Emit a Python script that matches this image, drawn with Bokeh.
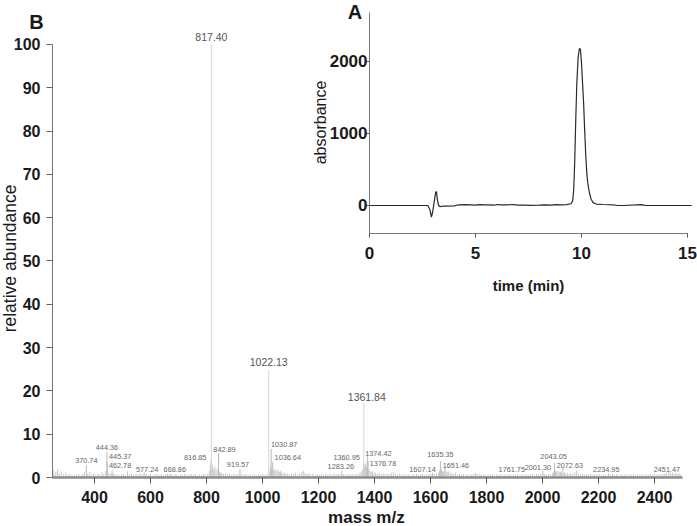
import math
from bokeh.plotting import figure
from bokeh.models import Range1d, LinearAxis, FixedTicker, Label
from bokeh.embed import file_html
from bokeh.resources import INLINE
from bokeh.core.properties import value

# ---------------- data: mass spectrum (panel B) ----------------
major_mz = [817.40, 1022.13, 1361.84]
major_h = [100.0, 24.7, 17.2]
major_label_y = [101.7, 26.6, 18.7]
major_dx = [0, 0, 3]

lab_mz = [370.74, 444.36, 445.37, 462.78, 577.24, 668.86, 816.85, 842.89, 919.57,
          1030.87, 1036.64, 1283.26, 1360.95, 1374.42, 1376.78, 1607.14, 1635.35,
          1651.46, 1761.75, 2001.30, 2043.05, 2072.63, 2234.95, 2451.47]
lab_h = [2.8, 5.9, 3.6, 1.6, 1.2, 0.9, 4.2, 5.6, 1.9,
         6.6, 3.6, 1.5, 3.3, 5.0, 3.8, 1.1, 3.8,
         2.4, 1.0, 1.6, 3.4, 2.2, 1.0, 1.3]
lab_y = [3.9, 6.9, 4.85, 2.8, 1.85, 1.85, 4.6, 6.5, 3.0,
         7.6, 4.6, 2.5, 4.6, 5.5, 3.3, 1.85, 5.3,
         2.8, 1.85, 2.4, 4.85, 2.8, 1.85, 1.85]
lab_dx = [0, 0, 13, 8, 3, 5, -16, 6, -2,
          13, 15, -1, -17, 11, 15, -10, 0,
          11, 36, -5, -1, 7, -2, -2]

noise_mz = [255, 262, 268, 274, 281, 289, 297, 305, 312, 320, 328, 336, 344, 352, 358, 364,
            376, 383, 391, 398, 405, 412, 419, 427, 433, 440, 451, 457, 468, 474, 481, 489,
            496, 503, 510, 518, 525, 532, 540, 548, 556, 563, 570, 585, 592, 600, 608, 616,
            623, 631, 639, 646, 654, 661, 676, 684, 691, 699, 707, 714, 722, 730, 737, 745,
            752, 760, 768, 775, 783, 790, 798, 805, 811, 814, 820, 823, 826, 830, 834, 838,
            846, 850, 855, 861, 868, 875, 882, 890, 897, 905, 912, 926, 934, 941, 949, 956,
            964, 971, 979, 986, 994, 1001, 1008, 1015, 1026, 1029, 1033, 1040, 1044, 1048,
            1052, 1056, 1060, 1064, 1068, 1073, 1078, 1084, 1090, 1097, 1104, 1111, 1118,
            1126, 1133, 1140, 1146, 1152, 1158, 1165, 1172, 1180, 1188, 1195, 1203, 1211,
            1218, 1226, 1233, 1241, 1248, 1256, 1263, 1270, 1277, 1290, 1297, 1305, 1312,
            1320, 1327, 1334, 1341, 1348, 1354, 1358, 1365, 1368, 1371, 1380, 1384, 1388,
            1393, 1398, 1404, 1410, 1417, 1424, 1431, 1438, 1445, 1452, 1460, 1467, 1474,
            1482, 1490, 1497, 1505, 1512, 1520, 1527, 1535, 1542, 1550, 1557, 1565, 1572,
            1580, 1587, 1595, 1601, 1614, 1621, 1628, 1632, 1639, 1643, 1647, 1655, 1660,
            1665, 1671, 1677, 1684, 1690, 1697, 1704, 1711, 1718, 1726, 1733, 1741, 1748,
            1755, 1768, 1776, 1783, 1791, 1798, 1806, 1814, 1821, 1829, 1836, 1844, 1851,
            1859, 1866, 1874, 1881, 1889, 1896, 1904, 1911, 1919, 1926, 1934, 1941, 1949,
            1956, 1964, 1971, 1979, 1986, 1994, 2008, 2015, 2022, 2029, 2036, 2040, 2047,
            2051, 2055, 2060, 2064, 2068, 2078, 2083, 2089, 2095, 2101, 2108, 2115, 2122,
            2129, 2136, 2143, 2150, 2158, 2165, 2172, 2180, 2187, 2195, 2202, 2210, 2217,
            2225, 2242, 2250, 2257, 2265, 2272, 2280, 2287, 2295, 2302, 2310, 2317, 2325,
            2332, 2340, 2347, 2355, 2362, 2370, 2378, 2385, 2393, 2400, 2408, 2415, 2423,
            2430, 2437, 2443, 2458, 2464, 2470, 2476, 2482, 2488, 2494]
noise_h = [1.6, 1.2, 1.9, 1.0, 1.4, 0.8, 1.1, 0.6, 0.9, 0.5, 0.7, 0.6, 0.9, 0.5, 0.8, 1.1,
           0.9, 1.3, 0.7, 1.0, 0.6, 0.9, 0.7, 1.2, 0.8, 1.5, 1.1, 0.9, 1.0, 0.6, 0.8, 0.5,
           0.7, 0.9, 0.6, 1.4, 0.8, 1.0, 0.6, 0.9, 0.7, 1.0, 0.8, 0.9, 0.6, 0.8, 0.5, 0.7,
           0.9, 0.6, 0.8, 0.5, 0.7, 0.9, 0.8, 0.6, 0.9, 0.5, 0.7, 0.6, 0.8, 0.5, 0.7, 0.9,
           0.6, 0.8, 0.5, 0.7, 0.6, 0.9, 0.7, 1.0, 1.6, 2.8, 3.0, 2.2, 1.8, 2.4, 1.5, 1.9,
           1.4, 1.0, 1.2, 0.8, 1.0, 0.7, 0.9, 0.6, 0.8, 0.7, 0.9, 0.8, 0.6, 0.8, 0.5, 0.7,
           0.6, 0.8, 0.5, 0.7, 0.6, 0.8, 0.5, 0.9, 1.5, 2.5, 2.0, 1.8, 1.6, 1.9,
           1.4, 1.7, 1.3, 1.5, 1.1, 1.0, 1.2, 0.8, 1.0, 0.7, 0.9, 0.8, 1.1,
           0.7, 0.9, 1.2, 1.6, 1.1, 0.8, 1.0, 0.7, 0.9, 0.6, 0.8, 0.6, 0.9,
           0.5, 0.8, 0.6, 0.8, 0.6, 0.9, 0.7, 0.9, 0.7, 0.8, 0.6, 0.8, 0.7,
           0.9, 0.6, 0.8, 0.9, 1.1, 1.4, 1.8, 2.6, 3.2, 2.4, 2.0, 1.6, 1.3,
           1.5, 1.1, 1.2, 0.9, 1.1, 0.8, 1.0, 0.7, 0.9, 0.8, 1.1, 1.4, 0.9,
           0.7, 0.9, 0.6, 0.8, 0.6, 0.8, 0.5, 0.7, 0.6, 0.8, 0.6, 0.7, 0.9,
           0.6, 0.8, 0.7, 0.9, 0.8, 0.9, 1.2, 1.6, 2.0, 1.5, 1.3, 1.6, 1.2,
           1.4, 1.0, 1.1, 0.8, 1.2, 0.7, 0.9, 0.7, 0.8, 0.6, 0.8, 0.6, 0.7,
           0.9, 0.7, 0.8, 0.6, 0.7, 0.5, 0.7, 0.6, 0.8, 0.5, 0.7, 0.6, 0.8,
           0.5, 0.7, 0.6, 0.8, 0.5, 0.7, 0.6, 0.8, 0.5, 0.7, 0.6, 0.8, 0.6,
           0.7, 0.9, 0.6, 0.8, 0.7, 0.9, 0.8, 0.6, 0.9, 0.7, 1.0, 1.4, 1.6,
           1.3, 1.5, 1.2, 1.4, 1.1, 1.2, 1.0, 1.1, 0.8, 1.0, 0.8, 1.2, 1.6,
           0.9, 0.7, 0.9, 0.6, 0.8, 0.7, 0.9, 0.6, 0.8, 0.6, 0.8, 0.5, 0.7,
           0.6, 0.7, 0.8, 0.6, 0.8, 0.5, 0.7, 0.6, 0.8, 0.5, 0.7, 0.6, 0.8,
           0.5, 0.7, 0.6, 0.8, 0.5, 0.7, 0.6, 0.8, 0.6, 0.9, 0.6, 0.8, 0.7,
           0.9, 1.0, 1.1, 1.0, 1.2, 0.9, 1.1, 0.8, 1.0, 0.7]

ms_xticks = [400, 600, 800, 1000, 1200, 1400, 1600, 1800, 2000, 2200, 2400]
ms_yticks = [0, 10, 20, 30, 40, 50, 60, 70, 80, 90, 100]

# ---------------- data: chromatogram (panel A) ----------------
time_min = [0.0, 2.75, 2.85, 2.92, 2.98, 3.04, 3.12, 3.16, 3.2, 3.26, 3.32, 3.45, 3.6, 4.0,
            4.2, 4.5, 4.8, 5.0, 5.2, 5.4, 5.6, 5.9, 6.0, 6.2, 6.5, 6.8, 7.0, 7.3, 7.6, 8.0,
            8.3, 8.6, 8.8, 9.0, 9.3, 9.5, 9.58, 9.63, 9.68, 9.73, 9.78, 9.84, 9.9, 9.95,
            10.0, 10.05, 10.1, 10.15, 10.2, 10.25, 10.3, 10.38, 10.45, 10.55, 10.7, 11.0,
            11.5, 11.7, 12.0, 12.8, 12.9, 13.0, 14.0, 15.2]
absorb = [0, 0, -60, -160, -90, 30, 180, 195, 80, 0, -15, -10, -8, -5,
          10, 12, 10, 6, 12, 8, 10, 4, 14, 8, 10, 12, 6, 4, 2, 4,
          10, 6, 12, 10, 12, 24, 60, 200, 600, 1200, 1700, 2050, 2180, 2170,
          1980, 1700, 1420, 1050, 700, 450, 300, 170, 90, 40, 20, 14,
          10, 0, 0, 12, 8, 0, 0, 0]
lc_xticks = [0, 5, 10, 15]
lc_yticks = [0, 1000, 2000]

FONT = "Liberation Sans"
TICK_COLOR = "#1a1a1a"

# the frame covers the whole canvas; every axis is placed with fixed_location
p = figure(width=697, height=526, output_backend="svg", toolbar_location=None,
           x_range=Range1d(64.29, 2553.57), y_range=Range1d(-11.316, 110.16),
           x_axis_location=None, y_axis_location=None,
           min_border_left=0, min_border_right=0, min_border_top=0, min_border_bottom=0,
           background_fill_color="white", border_fill_color="white")
p.outline_line_color = None
p.grid.visible = False
p.extra_x_ranges = {"ix": Range1d(-17.406, 15.472)}
p.extra_y_ranges = {"iy": Range1d(-4458.3, 2847.2)}


def style_axis(ax, size):
    ax.major_tick_in = 0
    ax.minor_tick_out = 0
    ax.minor_tick_in = 0
    ax.major_label_text_font = FONT
    ax.major_label_text_font_style = "bold"
    ax.major_label_text_font_size = size
    ax.major_label_text_color = TICK_COLOR


xa = LinearAxis(fixed_location=0, bounds=(250, 2500), ticker=FixedTicker(ticks=ms_xticks))
style_axis(xa, "16px")
xa.axis_line_color = "#8c8c8c"
xa.axis_line_width = 2.5
xa.major_tick_line_color = "#555555"
xa.major_tick_out = 6
xa.major_label_standoff = 7
p.add_layout(xa, "below")

ya = LinearAxis(fixed_location=250, bounds=(0, 100), ticker=FixedTicker(ticks=ms_yticks))
style_axis(ya, "16px")
ya.axis_line_color = "#777777"
ya.major_tick_line_color = "#666666"
ya.major_tick_out = 6
ya.major_label_standoff = 6
p.add_layout(ya, "left")

iya = LinearAxis(x_range_name="ix", y_range_name="iy", fixed_location=0,
                 bounds=(-389, 2680), ticker=FixedTicker(ticks=lc_yticks))
ixa = LinearAxis(x_range_name="ix", y_range_name="iy", fixed_location=-389,
                 bounds=(0, 15), ticker=FixedTicker(ticks=lc_xticks))
for ax in (iya, ixa):
    style_axis(ax, "17px")
    ax.axis_line_color = "#7a7a7a"
    ax.major_tick_line_color = "#555555"
    ax.major_tick_out = 4
iya.major_tick_out = 3
iya.major_label_standoff = -1
ixa.major_label_standoff = 9
p.add_layout(iya, "left")
p.add_layout(ixa, "below")

# spectrum sticks
p.segment(x0=noise_mz, y0=[0] * len(noise_mz), x1=noise_mz, y1=noise_h,
          line_color="#c8c8c8", line_width=1)
p.segment(x0=lab_mz, y0=[0] * len(lab_mz), x1=lab_mz, y1=lab_h,
          line_color="#b8b8b8", line_width=1)
p.segment(x0=major_mz, y0=[0] * len(major_mz), x1=major_mz, y1=major_h,
          line_color="#d6d6d6", line_width=1)

p.text(x=lab_mz, y=lab_y, text=[f"{m:.2f}" for m in lab_mz], x_offset=lab_dx,
       text_align="center", text_baseline="middle", text_font=value(FONT),
       text_font_size="7.3px", text_color="#666666")
p.text(x=major_mz, y=major_label_y, text=[f"{m:.2f}" for m in major_mz], x_offset=major_dx,
       text_align="center", text_baseline="middle", text_font=value(FONT),
       text_font_size="10.5px", text_color="#555555")

# inset chromatogram
p.line(time_min, absorb, x_range_name="ix", y_range_name="iy",
       line_color="#2a2a2a", line_width=1.2)


def lab(text, x, y, size, style="normal", angle=0.0, xr="default", yr="default"):
    p.add_layout(Label(x=x, y=y, text=text, x_range_name=xr, y_range_name=yr,
                       text_font=FONT, text_font_size=size, text_font_style=style,
                       text_color="#1a1a1a", text_align="center", text_baseline="middle",
                       angle=angle))


lab("B", 193, 105.1, "20px", "bold")
lab("relative abundance", 99, 50.6, "17.5px", "normal", math.pi / 2)
lab("mass m/z", 1371, -9.2, "17px", "bold")
lab("A", -0.684, 2694, "20px", "bold", xr="ix", yr="iy")
lab("absorbance", -2.31, 1153, "16px", "normal", math.pi / 2, xr="ix", yr="iy")
lab("time (min)", 7.5, -1111, "15px", "bold", xr="ix", yr="iy")

open("out.html", "w").write(file_html(p, INLINE))
